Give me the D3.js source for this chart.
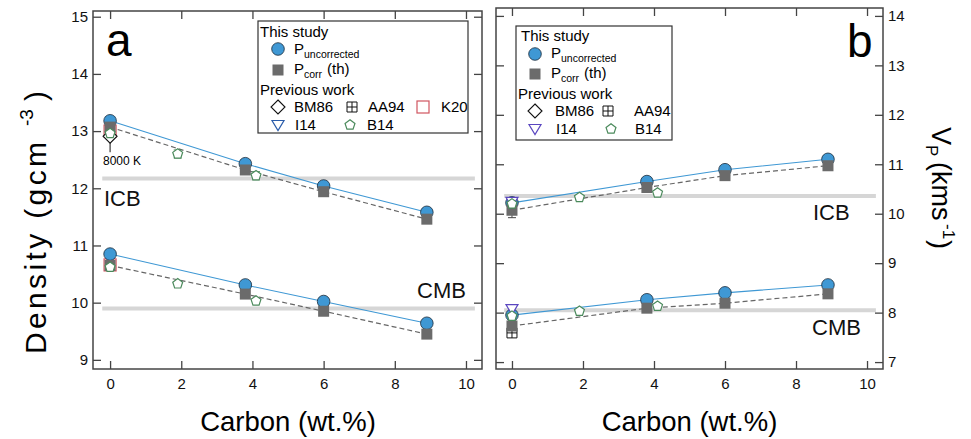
<!DOCTYPE html>
<html>
<head>
<meta charset="utf-8">
<script src="https://cdn.jsdelivr.net/npm/d3@7"></script>
<style>
  body { margin: 0; background: #fff; }
  svg { font-family: "Liberation Sans", Arial, sans-serif; }
</style>
</head>
<body>
<div id="chart"></div>
<script>
// carbon content of this study's points (wt.%)
var carbon = [0, 3.8, 6, 8.9];

// panel a: density (g/cm3)
var rhoIcbUnc  = [13.18, 12.43, 12.04, 11.58];
var rhoIcbCorr = [13.07, 12.32, 11.94, 11.46];
var rhoCmbUnc  = [10.85, 10.31, 10.02, 9.64];
var rhoCmbCorr = [10.65, 10.15, 9.85, 9.45];

// panel b: Vp (km/s)
var vpIcbUnc  = [10.22, 10.65, 10.89, 11.10];
var vpIcbCorr = [10.07, 10.53, 10.77, 10.97];
var vpCmbUnc  = [7.95, 8.26, 8.40, 8.56];
var vpCmbCorr = [7.73, 8.09, 8.19, 8.38];

// previous work
var carbonB14 = [0, 1.9, 4.1];
var rhoIcbB14 = [12.96, 12.60, 12.22];
var rhoCmbB14 = [10.62, 10.33, 10.03];
var vpIcbB14  = [10.20, 10.33, 10.42];
var vpCmbB14  = [7.93, 8.03, 8.13];
var rhoK20 = [13.00, 10.66];     // ICB, CMB at 0 wt.%
var rhoBM86 = [12.91];           // ICB at 0 wt.%
var vpI14 = [10.24, 8.07];       // ICB, CMB at 0 wt.%
var vpAA94 = [7.59];             // CMB at 0 wt.%

// PREM reference values
var refNames = ['ICB', 'CMB'];
var rhoRef = [12.17, 9.90];
var vpRef = [10.36, 8.05];

var xTicks = [0, 2, 4, 6, 8, 10];
var rhoTicks = [9, 10, 11, 12, 13, 14, 15];
var vpTicks = [7, 8, 9, 10, 11, 12, 13, 14];

var width = 971, height = 439;
var svg = d3.select('#chart').append('svg')
  .attr('width', width).attr('height', height);

var blue = '#3f98d4', grey = '#6b6b6b', axisCol = '#444';

var xa = d3.scaleLinear().domain([-0.48, 10.45]).range([93, 482]);
var ya = d3.scaleLinear().domain([8.84, 15.1]).range([369, 11]);
var xb = d3.scaleLinear().domain([-0.45, 10.45]).range([496, 883]);
var yb = d3.scaleLinear().domain([6.86, 14.16]).range([369, 8]);

function pentagon(r) {
  var p = [];
  for (var i = 0; i < 5; i++) {
    var a = -Math.PI / 2 + i * 2 * Math.PI / 5;
    p.push([r * Math.cos(a), r * Math.sin(a)]);
  }
  return 'M' + p.join('L') + 'Z';
}

function marker(g, type, x, y, col) {
  if (type == 'circle') {
    g.append('circle').attr('cx', x).attr('cy', y).attr('r', 6.3)
      .style('fill', blue).style('stroke', '#1c2b3a').style('stroke-width', 0.8);
  } else if (type == 'square') {
    g.append('rect').attr('x', x - 5.5).attr('y', y - 5.5).attr('width', 11).attr('height', 11)
      .style('fill', grey);
  } else if (type == 'k20') {
    g.append('rect').attr('x', x - 6).attr('y', y - 6).attr('width', 12).attr('height', 12)
      .style('fill', 'none').style('stroke', '#d05560').style('stroke-width', 1.2);
  } else if (type == 'diamond') {
    g.append('path').attr('d', 'M0,-7L7,0L0,7L-7,0Z').attr('transform', 'translate(' + x + ',' + y + ')')
      .style('fill', '#fff').style('stroke', '#111').style('stroke-width', 1.1);
  } else if (type == 'aa94') {
    g.append('path').attr('d', 'M-5,-5H5V5H-5ZM0,-5V5M-5,0H5').attr('transform', 'translate(' + x + ',' + y + ')')
      .style('fill', '#fff').style('stroke', '#111').style('stroke-width', 1);
  } else if (type == 'tri') {
    g.append('path').attr('d', 'M-6,-4.5L6,-4.5L0,5.5Z').attr('transform', 'translate(' + x + ',' + y + ')')
      .style('fill', '#fff').style('stroke', col).style('stroke-width', 1.2);
  } else if (type == 'pent') {
    g.append('path').attr('d', pentagon(5.2)).attr('transform', 'translate(' + x + ',' + y + ')')
      .style('fill', '#fff').style('stroke', '#4b8a5c').style('stroke-width', 1.2);
  }
}

function frame(x, y, leftLabels) {
  var g = svg.append('g');
  var x0 = x.range()[0], x1 = x.range()[1], y0 = y.range()[0], y1 = y.range()[1];
  g.append('g').attr('transform', 'translate(0,' + y0 + ')')
    .call(d3.axisBottom(x).tickValues(xTicks).tickSize(-8).tickPadding(9).tickFormat(d3.format('d')));
  g.append('g').attr('transform', 'translate(0,' + y1 + ')')
    .call(d3.axisTop(x).tickValues(xTicks).tickSize(-8).tickFormat(''));
  var yt = leftLabels ? rhoTicks : vpTicks;
  g.append('g').attr('transform', 'translate(' + x0 + ',0)')
    .call(d3.axisLeft(y).tickValues(yt).tickSize(-8).tickPadding(5).tickFormat(leftLabels ? d3.format('d') : ''));
  g.append('g').attr('transform', 'translate(' + x1 + ',0)')
    .call(d3.axisRight(y).tickValues(yt).tickSize(-8).tickPadding(5).tickFormat(leftLabels ? '' : d3.format('d')));
  g.selectAll('.domain').remove();
  g.selectAll('.tick line').style('stroke', axisCol).style('stroke-width', 1.3);
  g.selectAll('.tick text').style('font-size', '15px').style('fill', '#111')
    .style('font-family', '"Liberation Sans", Arial, sans-serif');
  g.append('rect').attr('x', x0).attr('y', y1).attr('width', x1 - x0).attr('height', y0 - y1)
    .style('fill', 'none').style('stroke', axisCol).style('stroke-width', 1.5);
  return g;
}

function panel(x, y, refs, icbUnc, icbCorr, cmbUnc, cmbCorr) {
  var g = svg.append('g');
  refs.forEach(function(v) {
    g.append('line').attr('x1', x(-0.22)).attr('x2', x(10.25)).attr('y1', y(v)).attr('y2', y(v))
      .style('stroke', '#d6d6d6').style('stroke-width', 4);
  });
  var line = d3.line().x(function(d) { return x(d[0]); }).y(function(d) { return y(d[1]); });
  [[icbUnc, icbCorr], [cmbUnc, cmbCorr]].forEach(function(s) {
    g.append('path').attr('d', line(d3.zip(carbon, s[0])))
      .style('fill', 'none').style('stroke', blue).style('stroke-width', 1.1);
    g.append('path').attr('d', line(d3.zip(carbon, s[1])))
      .style('fill', 'none').style('stroke', '#666').style('stroke-width', 1.2).style('stroke-dasharray', '5,3');
  });
  return g;
}

function points(g, x, y, xs, ys, type, col) {
  xs.forEach(function(c, i) { marker(g, type, x(c), y(ys[i]), col); });
}

function errBar(g, x, y, c, lo, hi, col) {
  g.append('path')
    .attr('d', 'M' + x(c) + ',' + y(lo) + 'V' + y(hi) + 'M' + (x(c) - 4) + ',' + y(lo) + 'H' + (x(c) + 4)
      + 'M' + (x(c) - 4) + ',' + y(hi) + 'H' + (x(c) + 4))
    .style('stroke', col).style('stroke-width', 1).style('fill', 'none');
}

/* panel a */
var ga = panel(xa, ya, rhoRef, rhoIcbUnc, rhoIcbCorr, rhoCmbUnc, rhoCmbCorr);
// 8000 K pointer
ga.append('line').attr('x1', xa(0)).attr('x2', xa(0)).attr('y1', ya(rhoBM86[0])).attr('y2', ya(rhoBM86[0]) + 16)
  .style('stroke', '#111').style('stroke-width', 1);
marker(ga, 'k20', xa(0), ya(rhoK20[0]));
marker(ga, 'k20', xa(0), ya(rhoK20[1]));
points(ga, xa, ya, carbon, rhoIcbUnc, 'circle');
points(ga, xa, ya, carbon, rhoCmbUnc, 'circle');
points(ga, xa, ya, carbon, rhoIcbCorr, 'square');
points(ga, xa, ya, carbon, rhoCmbCorr, 'square');
marker(ga, 'diamond', xa(0), ya(rhoBM86[0]));
errBar(ga, xa, ya, 1.9, rhoIcbB14[1] - 0.07, rhoIcbB14[1] + 0.07, '#4b8a5c');
errBar(ga, xa, ya, 4.1, rhoIcbB14[2] - 0.07, rhoIcbB14[2] + 0.07, '#4b8a5c');
points(ga, xa, ya, carbonB14, rhoIcbB14, 'pent');
points(ga, xa, ya, carbonB14, rhoCmbB14, 'pent');
ga.append('text').attr('x', 103).attr('y', 165).text('8000 K').style('font-size', '12px');

/* panel b */
var gb = panel(xb, yb, vpRef, vpIcbUnc, vpIcbCorr, vpCmbUnc, vpCmbCorr);
points(gb, xb, yb, carbon, vpIcbUnc, 'circle');
points(gb, xb, yb, carbon, vpCmbUnc, 'circle');
errBar(gb, xb, yb, 0, vpIcbCorr[0] - 0.15, vpIcbCorr[0] + 0.15, '#444');
marker(gb, 'aa94', xb(0), yb(vpAA94[0]));
points(gb, xb, yb, carbon, vpIcbCorr, 'square');
points(gb, xb, yb, carbon, vpCmbCorr, 'square');
marker(gb, 'tri', xb(0), yb(vpI14[0]), '#5a46c0');
marker(gb, 'tri', xb(0), yb(vpI14[1]), '#5a46c0');
points(gb, xb, yb, carbonB14, vpIcbB14, 'pent');
points(gb, xb, yb, carbonB14, vpCmbB14, 'pent');

frame(xa, ya, true);
frame(xb, yb, false);

// region labels
var lab = svg.append('g').style('font-size', '22px').style('fill', '#111');
lab.append('text').attr('x', 104).attr('y', 206).text(refNames[0]);
lab.append('text').attr('x', 417).attr('y', 298).text(refNames[1]);
lab.append('text').attr('x', 813).attr('y', 220).text(refNames[0]);
lab.append('text').attr('x', 812).attr('y', 335).text(refNames[1]);
svg.append('text').attr('x', 106).attr('y', 56).text('a').style('font-size', '46px');
svg.append('text').attr('x', 847).attr('y', 57).text('b').style('font-size', '46px');

// axis titles
svg.append('text').attr('x', xa(5)).attr('y', 431).attr('text-anchor', 'middle')
  .style('font-size', '27.5px').text('Carbon (wt.%)');
svg.append('text').attr('x', xb(5)).attr('y', 431).attr('text-anchor', 'middle')
  .style('font-size', '27.5px').text('Carbon (wt.%)');

// left title, a little stretched along the axis like the reference
var tl = svg.append('g').attr('transform', 'translate(46,0) rotate(-90)').style('font-size', '30px');
tl.append('text').attr('x', -354).attr('y', 0).attr('textLength', 212).attr('lengthAdjust', 'spacing')
  .text('Density (gcm');
tl.append('text').attr('x', -126).attr('y', -13).style('font-size', '19px').text('-3');
tl.append('text').attr('x', -101).attr('y', 0).text(')');

var tr = svg.append('g').attr('transform', 'translate(932,0) rotate(90)').style('font-size', '27px');
tr.append('text').attr('x', 127).attr('y', 0).text('V');
tr.append('text').attr('x', 145).attr('y', 6).style('font-size', '17px').text('P');
tr.append('text').attr('x', 162).attr('y', 0).text('(kms');
tr.append('text').attr('x', 224).attr('y', -11).style('font-size', '17px').text('-1');
tr.append('text').attr('x', 240).attr('y', 0).text(')');

// legends
function legend(box, rows, items) {
  var g = svg.append('g').style('font-size', '15px');
  g.append('rect').attr('x', box[0]).attr('y', box[1]).attr('width', box[2]).attr('height', box[3])
    .style('fill', '#fff').style('stroke', '#333').style('stroke-width', 1.2);
  rows.forEach(function(r) {
    var t = g.append('text').attr('x', r.x).attr('y', r.y).text(r.t);
    if (r.sub) {
      var x1 = r.x + t.node().getComputedTextLength();
      var s = g.append('text').attr('x', x1).attr('y', r.y + 4).style('font-size', '10.5px').text(r.sub);
      if (r.after) {
        g.append('text').attr('x', x1 + s.node().getComputedTextLength() + 5).attr('y', r.y).text(r.after);
      }
    }
  });
  items.forEach(function(m) { marker(g, m.type, m.x, m.y, m.col); });
}

legend([258, 21, 210, 112], [
  {x: 260, y: 37, t: 'This study'},
  {x: 294, y: 54, t: 'P', sub: 'uncorrected'},
  {x: 294, y: 74, t: 'P', sub: 'corr', after: '(th)'},
  {x: 260, y: 95, t: 'Previous work'},
  {x: 294, y: 112, t: 'BM86'}, {x: 368, y: 112, t: 'AA94'}, {x: 441, y: 112, t: 'K20'},
  {x: 295, y: 130, t: 'I14'}, {x: 367, y: 130, t: 'B14'}
], [
  {type: 'circle', x: 278, y: 49}, {type: 'square', x: 278, y: 70},
  {type: 'diamond', x: 278, y: 107}, {type: 'aa94', x: 352, y: 107}, {type: 'k20', x: 423, y: 107},
  {type: 'tri', x: 278, y: 125, col: '#2a5caa'}, {type: 'pent', x: 350, y: 125}
]);

legend([516, 26, 156, 114], [
  {x: 521, y: 41, t: 'This study'},
  {x: 551, y: 58, t: 'P', sub: 'uncorrected'},
  {x: 551, y: 78, t: 'P', sub: 'corr', after: '(th)'},
  {x: 518, y: 99, t: 'Previous work'},
  {x: 555, y: 116, t: 'BM86'}, {x: 634, y: 116, t: 'AA94'},
  {x: 556, y: 134, t: 'I14'}, {x: 635, y: 134, t: 'B14'}
], [
  {type: 'circle', x: 535, y: 54}, {type: 'square', x: 535, y: 74},
  {type: 'diamond', x: 535, y: 111}, {type: 'aa94', x: 608, y: 111},
  {type: 'tri', x: 535, y: 129, col: '#5a46c0'}, {type: 'pent', x: 611, y: 129}
]);
</script>
</body>
</html>
